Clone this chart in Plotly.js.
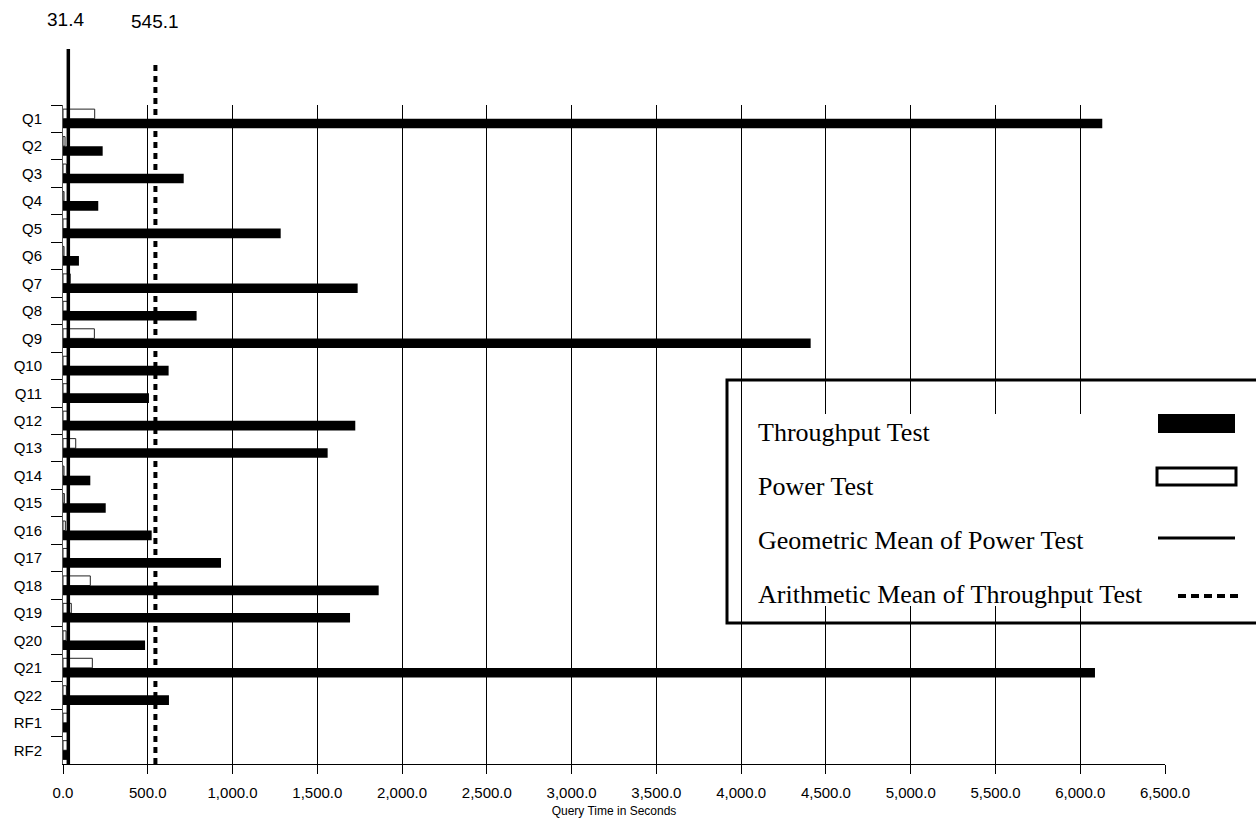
<!DOCTYPE html>
<html>
<head>
<meta charset="utf-8">
<script src="https://cdn.plot.ly/plotly-3.0.1.min.js"></script>
<style>html,body{margin:0;padding:0;background:#fff;}#chart{width:1256px;height:825px;}</style>
</head>
<body>
<div id="chart"></div>
<script>
var categories = ['Q1','Q2','Q3','Q4','Q5','Q6','Q7','Q8','Q9','Q10','Q11','Q12','Q13','Q14','Q15','Q16','Q17','Q18','Q19','Q20','Q21','Q22','RF1','RF2'];
var throughputTest = [6130, 234, 712, 208, 1284, 94, 1738, 788, 4410, 623, 507, 1724, 1561, 161, 252, 523, 932, 1862, 1693, 484, 6087, 625, 33, 28];
var powerTest = [187, 12, 20, 6, 37, 6, 43, 31, 185, 29, 29, 31, 75, 6, 8, 14, 35, 161, 49, 18, 173, 20, 31, 35];
var geoMeanPower = 31.4;
var arithMeanThroughput = 545.1;
var legendLabels = ['Throughput Test', 'Power Test', 'Geometric Mean of Power Test', 'Arithmetic Mean of Throughput Test'];
var xTickValues = [0,500,1000,1500,2000,2500,3000,3500,4000,4500,5000,5500,6000,6500];

var W = 1256, H = 825;
var L = 63, R = 1165, T = 105, B = 764;
function px(x){ return (x - L) / (R - L); }
function py(y){ return (B - y) / (B - T); }

var traces = [
  {type:'bar', orientation:'h', name: legendLabels[1], y: categories, x: powerTest,
   marker:{color:'#ffffff', line:{color:'#222222', width:1}}, showlegend:false, hoverinfo:'x+y'},
  {type:'bar', orientation:'h', name: legendLabels[0], y: categories, x: throughputTest,
   marker:{color:'#000000', line:{color:'#000000', width:0}}, showlegend:false, hoverinfo:'x+y'}
];

var shapes = [
  {type:'line', xref:'x', yref:'paper', x0:geoMeanPower, x1:geoMeanPower, y0:0, y1:py(49), line:{color:'#000', width:3.5}, layer:'above'},
  {type:'line', xref:'x', yref:'paper', x0:arithMeanThroughput, x1:arithMeanThroughput, y0:0, y1:py(63), line:{color:'#000', width:4, dash:'6px,5px'}, layer:'above'},
  // legend box
  {type:'rect', xref:'paper', yref:'paper', x0:px(727), x1:px(1262), y0:py(623), y1:py(380), line:{color:'#000', width:3}, fillcolor:'rgba(0,0,0,0)', layer:'above'},
  {type:'rect', xref:'paper', yref:'paper', x0:px(750), x1:px(1152), y0:py(606), y1:py(414), line:{width:0}, fillcolor:'#ffffff', layer:'above'},
  // legend symbols
  {type:'rect', xref:'paper', yref:'paper', x0:px(1158), x1:px(1235), y0:py(433), y1:py(414), line:{width:0}, fillcolor:'#000', layer:'above'},
  {type:'rect', xref:'paper', yref:'paper', x0:px(1157), x1:px(1236), y0:py(485), y1:py(468), line:{color:'#000', width:3}, fillcolor:'#fff', layer:'above'},
  {type:'line', xref:'paper', yref:'paper', x0:px(1158), x1:px(1235), y0:py(538), y1:py(538), line:{color:'#000', width:3}, layer:'above'},
  {type:'line', xref:'paper', yref:'paper', x0:px(1178), x1:px(1242), y0:py(596), y1:py(596), line:{color:'#000', width:4, dash:'8px,5px'}, layer:'above'}
];

var legendY = [432, 486, 540, 594];
var annotations = [
  {xref:'x', yref:'paper', x:geoMeanPower, y:py(20), xshift:-3, text:String(geoMeanPower), showarrow:false, xanchor:'center', yanchor:'middle', font:{family:'Liberation Sans, Arial, sans-serif', size:19, color:'#000'}},
  {xref:'x', yref:'paper', x:arithMeanThroughput, y:py(22), text:String(arithMeanThroughput), showarrow:false, xanchor:'center', yanchor:'middle', font:{family:'Liberation Sans, Arial, sans-serif', size:19, color:'#000'}}
];
for (var i = 0; i < legendLabels.length; i++) {
  annotations.push({xref:'paper', yref:'paper', x:px(756), y:py(legendY[i]), text:legendLabels[i], showarrow:false, xanchor:'left', yanchor:'middle',
    font:{family:'Liberation Serif, Times New Roman, serif', size:26, color:'#000'}});
}

var layout = {
  width: W, height: H,
  margin: {l:L, r:W-R, t:T, b:H-B, pad:0},
  paper_bgcolor:'#fff', plot_bgcolor:'#fff',
  barmode:'group', bargap:0.3, bargroupgap:0,
  font:{family:'Liberation Sans, Arial, sans-serif', size:15, color:'#000'},
  xaxis:{
    range:[0, 6500], tickvals: xTickValues, tickformat:',.1f',
    showgrid:true, gridcolor:'#000', gridwidth:1, zeroline:false,
    showline:true, linecolor:'#000', linewidth:1,
    ticks:'outside', ticklen:9, tickcolor:'#000', tickwidth:1,
    ticklabelstandoff:6,
    tickfont:{size:15},
    title:{text:'Query Time in Seconds', font:{size:12}, standoff:6}
  },
  yaxis:{
    type:'category', categoryorder:'array', categoryarray: categories,
    autorange:'reversed', tickson:'boundaries',
    showgrid:false, zeroline:false,
    showline:true, linecolor:'#555', linewidth:1,
    ticks:'outside', ticklen:11, tickcolor:'#000', tickwidth:1,
    ticklabelstandoff:17,
    tickfont:{size:15}
  },
  shapes: shapes,
  annotations: annotations,
  showlegend:false
};

Plotly.newPlot('chart', traces, layout, {displayModeBar:false, staticPlot:true});
</script>
</body>
</html>
